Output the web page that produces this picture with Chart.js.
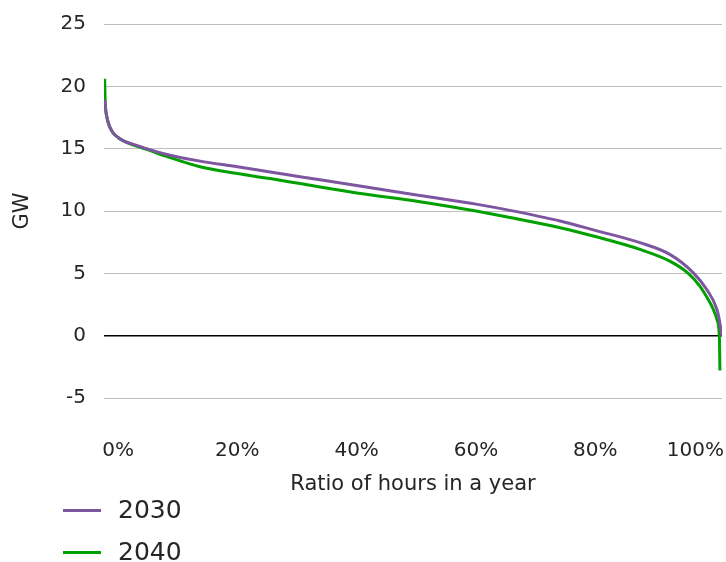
<!DOCTYPE html>
<html>
<head>
<meta charset="utf-8">
<script src="https://cdn.jsdelivr.net/npm/chart.js@4.4.1/dist/chart.umd.min.js"></script>
<style>
  html, body { margin: 0; padding: 0; background: #fff; }
  #wrap { position: relative; width: 726px; height: 562px; }
  #legend { position: absolute; left: 63px; top: 489px; font-family: "DejaVu Sans", sans-serif; color: #262626; }
  .li { display: flex; align-items: center; height: 42px; }
  .sw { width: 38px; height: 3px; margin-right: 17px; }
  .tx { font-size: 25px; line-height: 42px; }
</style>
</head>
<body>
<div id="wrap">
  <canvas id="c" width="726" height="562"></canvas>
  <div id="legend"></div>
</div>
<script>
// ---- data ----
const seriesNames = ['2030', '2040'];
const x2030 = [-2.23, -2.1, -1.96, -1.7, -1.39, -0.8, 0, 1, 2.23, 4.8, 8, 13.75, 20, 25.5, 30.5, 40, 50.6, 60, 65.7, 74.1, 80, 87.5, 92.5, 96.45, 98.7, 100.4, 100.9, 101.2];
const y2030 = [18.9, 18.2, 17.75, 17.2, 16.75, 16.25, 15.9, 15.6, 15.4, 15.0, 14.55, 14.0, 13.55, 13.12, 12.75, 12.05, 11.25, 10.55, 10.05, 9.2, 8.45, 7.46, 6.52, 5.04, 3.7, 2.1, 1.0, 0.0];
const x2040 = [-2.23, -2.2, -2.15, -2.05, -1.9, -1.65, -1.35, -0.8, 0, 1, 2.23, 4.8, 8, 13.75, 20, 25.5, 30.5, 40, 50.6, 60, 65.7, 74.1, 80, 87.5, 92.5, 95.6, 97.5, 98.7, 99.8, 100.4, 100.8, 100.85, 100.9];
const y2040 = [20.6, 19.6, 18.8, 18.1, 17.6, 17.1, 16.7, 16.25, 15.9, 15.6, 15.35, 14.95, 14.4, 13.55, 13.0, 12.6, 12.2, 11.45, 10.75, 10.0, 9.48, 8.66, 7.95, 6.92, 5.98, 5.0, 4.0, 3.1, 2.1, 1.3, 0.0, -1.0, -2.8];
const xTickValues = [0, 20, 40, 60, 80, 100];
const xTickLabels = ['0%', '20%', '40%', '60%', '80%', '100%'];
const yTicks = [-5, 0, 5, 10, 15, 20, 25];
const xTitle = 'Ratio of hours in a year';
const yTitle = 'GW';

const colors = ['#7d55a1', '#00a000'];
const textColor = '#262626';
const FONT = '"DejaVu Sans", sans-serif';

function pts(xs, ys) { return xs.map((x, i) => ({ x: x, y: ys[i] })); }

const xLabelsPlugin = {
  id: 'xLabels',
  afterDraw(chart) {
    const sc = chart.scales.x;
    const ctx = chart.ctx;
    ctx.save();
    ctx.font = '20px ' + FONT;
    ctx.fillStyle = textColor;
    ctx.textBaseline = 'middle';
    ctx.textAlign = 'left';
    xTickValues.forEach((v, i) => {
      const t = xTickLabels[i];
      const w = ctx.measureText(t).width;
      let x = sc.getPixelForValue(v) - w / 2;
      if (x + w > chart.width - 2) x = chart.width - 2 - w;
      ctx.fillText(t, x, 451);
    });
    ctx.restore();
  }
};

Chart.defaults.font.family = FONT;
Chart.defaults.color = textColor;

const chart = new Chart(document.getElementById('c'), {
  type: 'line',
  data: {
    datasets: [
      { label: seriesNames[0], data: pts(x2030, y2030), borderColor: colors[0], backgroundColor: colors[0], borderWidth: 3, pointRadius: 0, cubicInterpolationMode: 'monotone', fill: false },
      { label: seriesNames[1], data: pts(x2040, y2040), borderColor: colors[1], backgroundColor: colors[1], borderWidth: 3, pointRadius: 0, cubicInterpolationMode: 'monotone', fill: false }
    ]
  },
  options: {
    responsive: false,
    animation: false,
    layout: { padding: { left: 0, right: 4, top: 24, bottom: 65 } },
    plugins: { legend: { display: false }, tooltip: { enabled: false } },
    scales: {
      x: {
        type: 'linear',
        min: -2.35, max: 101.25,
        grid: { display: false, drawTicks: false },
        border: { display: false },
        ticks: { display: false, includeBounds: false, stepSize: 20 },
        title: { display: true, text: xTitle, font: { size: 21 }, color: textColor, padding: { top: 73.8, bottom: 0 } }
      },
      y: {
        min: -5, max: 25,
        afterBuildTicks(s) { s.ticks = yTicks.map(v => ({ value: v })); },
        afterFit(s) { s.width = 104; s.paddingTop = 0; s.paddingBottom = 0; },
        grid: {
          drawTicks: false,
          color: c => (c.tick && c.tick.value === 0) ? '#000000' : '#bfbfbf',
          lineWidth: c => (c.tick && c.tick.value === 0) ? 1.5 : 1
        },
        border: { display: false },
        ticks: { padding: 18, font: { size: 20 }, color: textColor },
        title: { display: true, text: yTitle, font: { size: 21 }, color: textColor, padding: { top: 10, bottom: 0 } }
      }
    }
  },
  plugins: [xLabelsPlugin]
});

// HTML legend built from chart datasets
const lg = document.getElementById('legend');
chart.data.datasets.forEach(ds => {
  const row = document.createElement('div'); row.className = 'li';
  const sw = document.createElement('div'); sw.className = 'sw'; sw.style.background = ds.borderColor;
  const tx = document.createElement('span'); tx.className = 'tx'; tx.textContent = ds.label;
  row.appendChild(sw); row.appendChild(tx); lg.appendChild(row);
});
</script>
</body>
</html>
